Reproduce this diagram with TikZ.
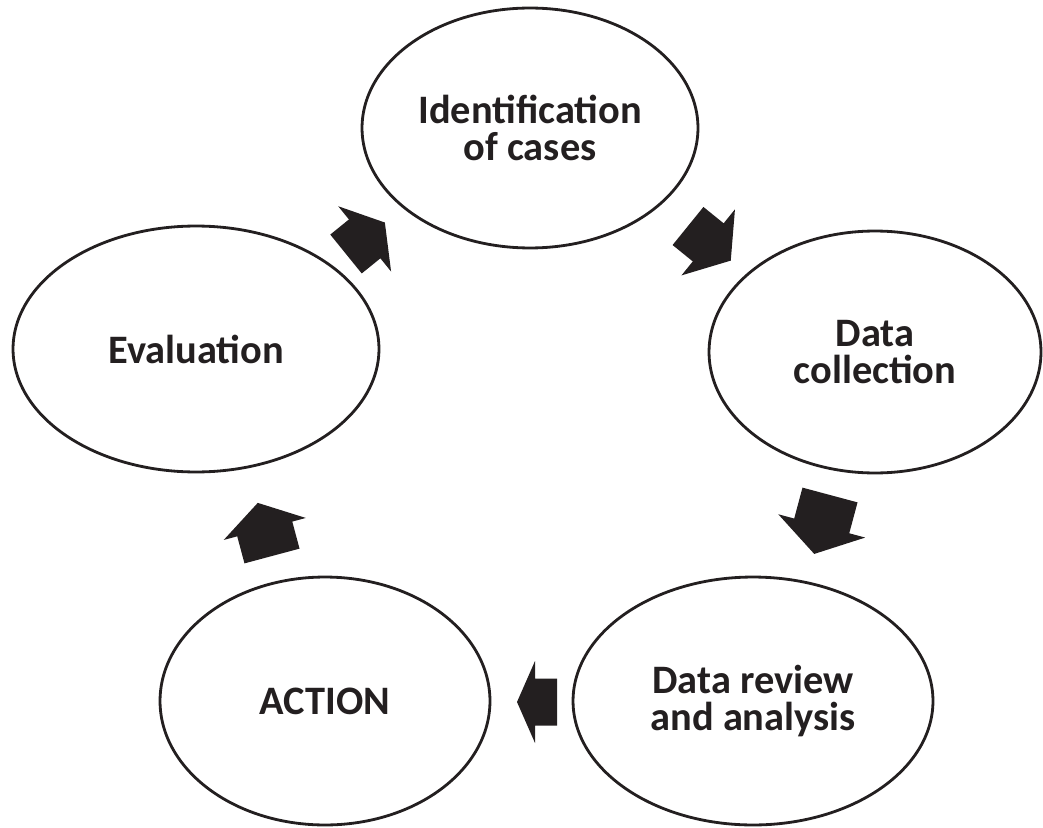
\documentclass[tikz,border=0pt]{standalone}
\usepackage{fontspec}
\setmainfont{Carlito}
\usetikzlibrary{shapes.geometric}
\definecolor{ink}{RGB}{35,31,32}
% block arrow: tail, angle, length, shaft width, head width, head length (all in px units)
\newcommand{\blockarrow}[6]{%
  \begin{scope}[shift={#1},rotate=#2,y=0.02cm]
    \fill[ink] (0,-#4/2) -- (#3-#6,-#4/2) -- (#3-#6,-#5/2) -- (#3,0)
      -- (#3-#6,#5/2) -- (#3-#6,#4/2) -- (0,#4/2) -- cycle;
  \end{scope}}
\begin{document}
\begin{tikzpicture}
	[x=0.02cm,y=-0.02cm,
	stage/.style={ellipse,draw=ink,line width=1.6pt,inner sep=0pt,align=center,text=ink,font=\fontsize{23}{21.5}\selectfont\bfseries}]
    \useasboundingbox (0,0) rectangle (1043,827);
    % the five stages
    \node[stage,minimum width=6.72cm,minimum height=4.8cm] at (530,128) (ident) {Identification\\of cases};
    \node[stage,minimum width=6.64cm,minimum height=4.84cm] at (875,352) (collect) {Data\\collection};
    \node[stage,minimum width=7.2cm,minimum height=4.96cm] at (753,701) (review) {Data review\\and analysis};
    \node[stage,minimum width=6.6cm,minimum height=4.96cm] at (325,701) (action) {ACTION};
    \node[stage,minimum width=7.32cm,minimum height=4.92cm] at (196,349) (eval) {Evaluation};
    % block arrows between them
    \blockarrow{(346,254)}{39}{50}{50}{84}{26}
    \blockarrow{(688,226)}{-39}{55}{49}{85}{29}
    \blockarrow{(830,495)}{-105}{61}{57}{90}{29}
    \blockarrow{(557,702)}{180}{40}{47}{82}{18}
    \blockarrow{(272,556)}{105}{55}{57}{85}{27}
\end{tikzpicture}
\end{document}
